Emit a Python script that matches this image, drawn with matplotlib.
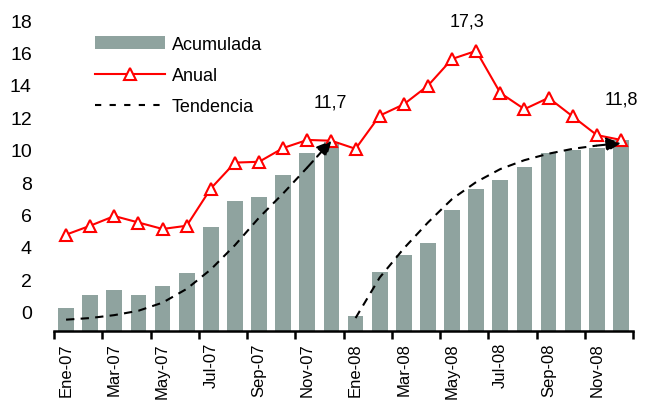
import numpy as np
import matplotlib
matplotlib.use("Agg")
import matplotlib.pyplot as plt
from matplotlib.patches import Patch
from matplotlib.lines import Line2D

plt.rcParams["font.family"] = ["Liberation Sans", "DejaVu Sans"]

months = ["Ene-07", "Feb-07", "Mar-07", "Abr-07", "May-07", "Jun-07",
          "Jul-07", "Ago-07", "Sep-07", "Oct-07", "Nov-07", "Dic-07",
          "Ene-08", "Feb-08", "Mar-08", "Abr-08", "May-08", "Jun-08",
          "Jul-08", "Ago-08", "Sep-08", "Oct-08", "Nov-08", "Dic-08"]
acumulada = [0.2, 1.05, 1.35, 1.05, 1.55, 2.4, 5.2, 6.85, 7.1, 8.45, 9.8, 10.5,
             -0.25, 2.45, 3.5, 4.25, 6.25, 7.6, 8.15, 8.9, 9.8, 10.0, 10.1, 10.6]
anual = [4.75, 5.3, 5.9, 5.5, 5.1, 5.3, 7.6, 9.2, 9.25, 10.1, 10.6, 10.55,
         10.05, 12.1, 12.8, 13.95, 15.6, 16.1, 13.5, 12.5, 13.2, 12.05, 10.9, 10.6]
tendencia_07 = [-0.5, -0.4, -0.22, 0.05, 0.55, 1.4, 2.6, 4.1, 5.8, 7.3, 8.9, 10.55]
tendencia_08 = [-0.4, 2.1, 3.9, 5.5, 6.95, 8.0, 8.8, 9.35, 9.75, 10.05, 10.25, 10.4]
etiquetas = [(10.95, 12.95, "11,7"), (16.6, 17.95, "17,3"), (23.0, 13.1, "11,8")]

bar_color = "#8fa39f"
x = np.arange(len(months))

fig = plt.figure(figsize=(6.47, 4.02), dpi=100)
ax = fig.add_axes([54 / 647, 70 / 402, (633 - 54) / 647, (332 - 13) / 402])

ax.bar(x, np.array(acumulada) + 1.2, bottom=-1.2, width=0.65, color=bar_color, zorder=1)
ax.plot(x, anual, color="red", lw=1.5, marker="^", markersize=9,
        markerfacecolor="white", markeredgecolor="red", markeredgewidth=1.5, zorder=3)

for tr, start in ((tendencia_07, 0), (tendencia_08, 12)):
    xt = x[start:start + len(tr)]
    ax.plot(xt[:-1], tr[:-1], color="black", lw=1.5, ls=(0, (4, 3)), zorder=4)
    ax.annotate("", xy=(xt[-1], tr[-1]), xytext=(xt[-2], tr[-2]),
                arrowprops=dict(arrowstyle="-|>", color="black", lw=1.5,
                                linestyle=(0, (4, 3)), mutation_scale=22,
                                shrinkA=0, shrinkB=0),
                zorder=5)

for xp, yp, txt in etiquetas:
    ax.text(xp, yp, txt, ha="center", va="center", fontsize=13)

ax.set_xlim(-0.5, 23.5)
ax.set_ylim(-1.2, 18.5)

ax.set_yticks(np.arange(0, 19, 2))
ax.tick_params(axis="y", length=0, labelsize=14, pad=16)

ax.set_xticks(np.arange(-0.5, 24, 2))
ax.set_xticklabels([])
ax.set_xticks(x[::2], minor=True)
ax.set_xticklabels(months[::2], minor=True, rotation=90, fontsize=12)
ax.tick_params(axis="x", which="major", length=6, width=1.8, direction="out")
ax.tick_params(axis="x", which="minor", length=0, pad=8)

for side in ("top", "right", "left"):
    ax.spines[side].set_visible(False)
ax.spines["bottom"].set_linewidth(1.8)

handles = [Patch(facecolor=bar_color, edgecolor="none"),
           Line2D([], [], color="red", lw=1.5, marker="^", markersize=9,
                  markerfacecolor="white", markeredgecolor="red", markeredgewidth=1.5),
           Line2D([], [], color="black", lw=1.5, ls=(0, (3, 4)))]
fig.legend(handles, ["Acumulada", "Anual", "Tendencia"], loc="upper left",
           bbox_to_anchor=(95 / 647, 1 - 37 / 402), frameon=False, fontsize=13,
           handlelength=3.9, handletextpad=0.35, labelspacing=0.78,
           borderpad=0, borderaxespad=0)

fig.savefig("out.png", dpi=100)
